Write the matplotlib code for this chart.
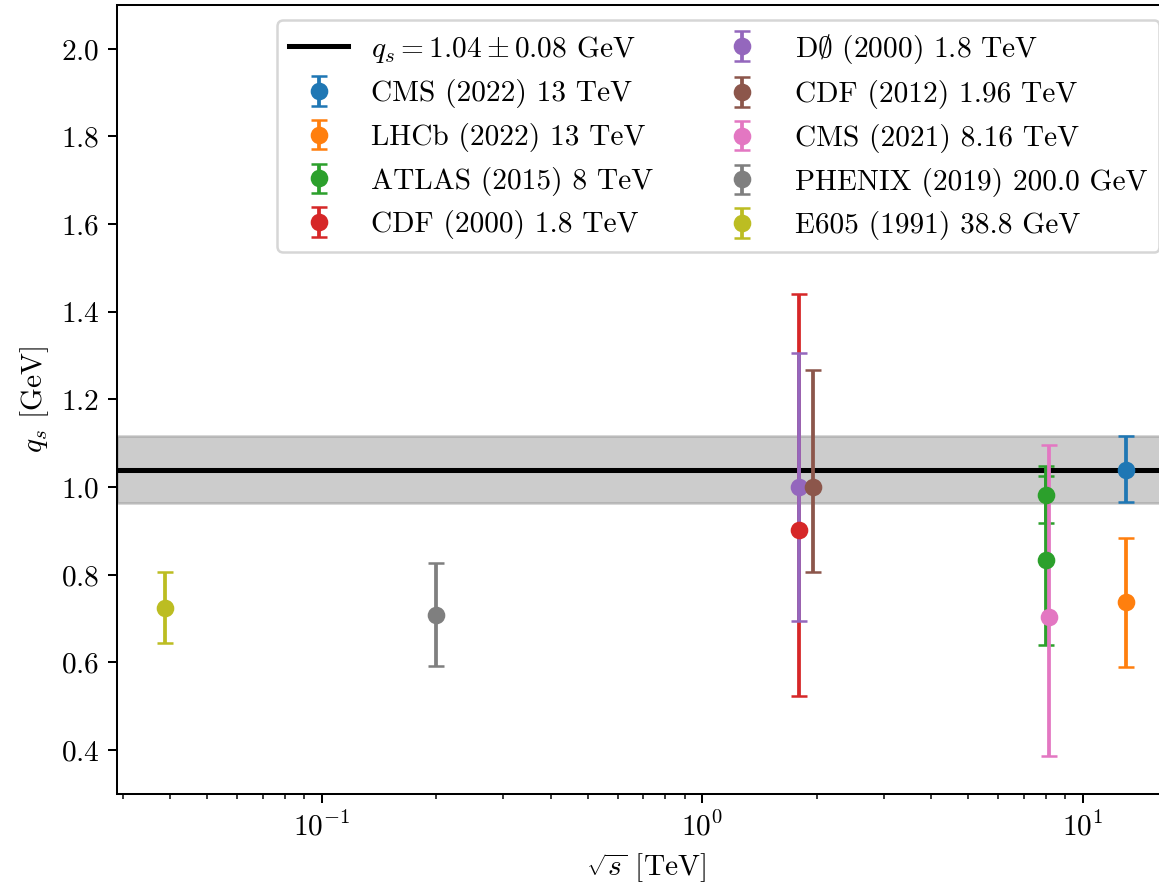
import numpy as np
import matplotlib
matplotlib.use("Agg")
import matplotlib.pyplot as plt

plt.rcParams['font.family'] = 'serif'
plt.rcParams['font.serif'] = ['cmr10']
plt.rcParams['mathtext.fontset'] = 'cm'
plt.rcParams['axes.formatter.use_mathtext'] = True
plt.rcParams['font.size'] = 11.7

# fitted value and its uncertainty
qs_fit = 1.04
qs_err = 0.077

# experiments: label, sqrt(s) in TeV, q_s, lower / upper errors
labels = ['CMS (2022) 13 TeV', 'LHCb (2022) 13 TeV', 'ATLAS (2015) 8 TeV',
          'CDF (2000) 1.8 TeV', r'D$\emptyset$ (2000) 1.8 TeV', 'CDF (2012) 1.96 TeV',
          'CMS (2021) 8.16 TeV', 'PHENIX (2019) 200.0 GeV', 'E605 (1991) 38.8 GeV']
energies = [[13.0], [13.0], [8.0, 8.0], [1.8], [1.8], [1.96], [8.16], [0.2], [0.0388]]
qs_vals = [[1.04], [0.737], [0.983, 0.833], [0.903], [1.0], [1.0], [0.703], [0.709], [0.725]]
err_lo = [[0.075], [0.147], [0.065, 0.193], [0.38], [0.306], [0.193], [0.316], [0.118], [0.08]]
err_hi = [[0.077], [0.148], [0.065, 0.193], [0.537], [0.306], [0.267], [0.393], [0.118], [0.082]]

fig = plt.figure(figsize=(6.4, 4.876), dpi=181.1)
ax = fig.add_axes([0.101, 0.1008, 0.912, 0.8935])
ax.spines['right'].set_visible(False)

ax.axhline(qs_fit, color='k', lw=2, label=r'$q_s = 1.04 \pm 0.08$ GeV')
ax.axhspan(qs_fit - qs_err, qs_fit + qs_err, color='gray', alpha=0.4)

for i, lab in enumerate(labels):
    ax.errorbar(energies[i], qs_vals[i], yerr=[err_lo[i], err_hi[i]],
                fmt='o', capsize=3, color='C%d' % i, label=lab)

ax.set_xscale('log')
ax.set_ylim(0.3, 2.1)
ax.set_xlabel(r'$\sqrt{s}$ [TeV]')
ax.set_ylabel(r'$q_s$ [GeV]')
ax.legend(ncol=2, loc='upper right')

fig.savefig('out.png', dpi=181.1)
